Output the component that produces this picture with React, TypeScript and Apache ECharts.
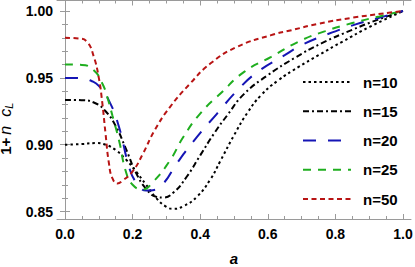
import { useEffect, useRef } from "react";
import * as echarts from "echarts";

const seriesNames = ["n=10", "n=15", "n=20", "n=25", "n=50"];
const seriesColors = ["#000000", "#000000", "#1515b5", "#1fae1f", "#b81414"];
const seriesDashes = [[2.5, 3], [6, 3, 2, 3], [13, 12], [8, 7], [5, 3.5]];

const xTickValues = [0, 0.2, 0.4, 0.6, 0.8, 1.0];
const xMinorTickValues = [0.05, 0.1, 0.15, 0.25, 0.3, 0.35, 0.45, 0.5, 0.55, 0.65, 0.7, 0.75, 0.85, 0.9, 0.95];
const yTickValues = [0.85, 0.9, 0.95, 1.0];
const yMinorTickValues = [0.86, 0.87, 0.88, 0.89, 0.91, 0.92, 0.93, 0.94, 0.96, 0.97, 0.98, 0.99];

const n10: [number, number][] = [
  [0, 0.9], [0.05, 0.9005], [0.09, 0.9012], [0.12, 0.9], [0.15, 0.896], [0.18, 0.889],
  [0.21, 0.88], [0.24, 0.87], [0.27, 0.86], [0.3, 0.8535], [0.32, 0.852], [0.35, 0.854],
  [0.39, 0.861], [0.43, 0.874], [0.46, 0.888], [0.5, 0.907], [0.54, 0.924], [0.58, 0.937],
  [0.63, 0.948], [0.69, 0.958], [0.75, 0.967], [0.82, 0.977], [0.9, 0.988], [1.0, 1.0],
];
const n15: [number, number][] = [
  [0, 0.9335], [0.05, 0.9333], [0.09, 0.931], [0.12, 0.925], [0.15, 0.914], [0.18, 0.897],
  [0.21, 0.879], [0.24, 0.867], [0.27, 0.861], [0.29, 0.8605], [0.32, 0.864], [0.36, 0.876],
  [0.4, 0.892], [0.44, 0.908], [0.48, 0.922], [0.53, 0.938], [0.6, 0.952], [0.68, 0.965],
  [0.76, 0.976], [0.85, 0.986], [0.92, 0.993], [1.0, 1.0],
];
const n20: [number, number][] = [
  [0, 0.95], [0.05, 0.9497], [0.08, 0.9475], [0.1, 0.944], [0.13, 0.933], [0.16, 0.913],
  [0.19, 0.883], [0.21, 0.872], [0.24, 0.8657], [0.26, 0.866], [0.29, 0.8707], [0.33, 0.8857],
  [0.39, 0.9057], [0.45, 0.9233], [0.51, 0.9407], [0.57, 0.9545], [0.65, 0.967], [0.7, 0.9745],
  [0.78, 0.983], [0.86, 0.99], [0.93, 0.995], [1.0, 1.0],
];
const n25: [number, number][] = [
  [0, 0.96], [0.05, 0.9597], [0.085, 0.9557], [0.11, 0.946], [0.125, 0.9357], [0.14, 0.922],
  [0.16, 0.903], [0.18, 0.88], [0.2, 0.87], [0.23, 0.8665], [0.26, 0.872], [0.31, 0.888],
  [0.35, 0.9057], [0.4, 0.9233], [0.46, 0.9383], [0.53, 0.9545], [0.61, 0.9657], [0.69, 0.977],
  [0.77, 0.985], [0.85, 0.991], [0.93, 0.996], [1.0, 1.0],
];
const n50: [number, number][] = [
  [0, 0.98], [0.04, 0.9795], [0.065, 0.977], [0.085, 0.966], [0.1, 0.95], [0.11, 0.932],
  [0.12, 0.908], [0.13, 0.886], [0.14, 0.875], [0.155, 0.871], [0.17, 0.873], [0.2, 0.88],
  [0.23, 0.893], [0.265, 0.9107], [0.31, 0.928], [0.37, 0.9457], [0.43, 0.9607], [0.51, 0.9733],
  [0.61, 0.982], [0.67, 0.9857], [0.75, 0.9905], [0.85, 0.995], [1.0, 1.0],
];
const seriesData = [n10, n15, n20, n25, n50];

const FONT = "'Liberation Sans', Arial, sans-serif";
const FRAME = "#9a9a9a";
const X_MIN = -0.0237;
const X_MAX = 1.0237;
const Y_MIN = 0.8444;
const Y_MAX = 1.0079;

function xAxis(position: "top" | "bottom", ticks: number[], len: number, main: boolean, label: boolean) {
  return {
    type: "value",
    position,
    min: X_MIN,
    max: X_MAX,
    axisLine: { show: main, lineStyle: { color: FRAME, width: 1 } },
    axisTick: { show: true, inside: true, length: len, customValues: ticks, lineStyle: { color: FRAME, width: 1 } },
    axisLabel: {
      show: label,
      customValues: ticks,
      formatter: (v: number) => v.toFixed(1),
      color: "#000",
      fontWeight: "bold",
      fontSize: 14,
      fontFamily: FONT,
      margin: 8,
    },
    splitLine: { show: false },
  };
}

function yAxis(position: "left" | "right", ticks: number[], len: number, main: boolean, label: boolean) {
  return {
    type: "value",
    position,
    min: Y_MIN,
    max: Y_MAX,
    axisLine: { show: main, lineStyle: { color: FRAME, width: 1 } },
    axisTick: { show: true, inside: true, length: len, customValues: ticks, lineStyle: { color: FRAME, width: 1 } },
    axisLabel: {
      show: label,
      customValues: ticks,
      formatter: (v: number) => v.toFixed(2),
      color: "#000",
      fontWeight: "bold",
      fontSize: 14,
      fontFamily: FONT,
      margin: 4,
    },
    splitLine: { show: false },
  };
}

export default function App() {
  const ref = useRef<HTMLDivElement>(null);
  useEffect(() => {
    if (!ref.current) return;
    const chart = echarts.init(ref.current, undefined, { renderer: "svg" });
    chart.setOption({
      animation: false,
      grid: { left: 57, right: 4, top: 0.5, bottom: 48, containLabel: false, outerBoundsMode: "none" },
      xAxis: [
        {
          ...xAxis("bottom", xTickValues, 5, true, true),
          name: "a",
          nameLocation: "middle",
          nameGap: 32,
          nameTextStyle: { fontStyle: "italic", fontWeight: "bold", fontSize: 15, color: "#000", fontFamily: FONT },
        },
        xAxis("bottom", xMinorTickValues, 3, false, false),
        xAxis("top", xTickValues, 5, true, false),
        xAxis("top", xMinorTickValues, 3, false, false),
      ],
      yAxis: [
        {
          ...yAxis("left", yTickValues, 5, true, true),
          name: "{a|1+}{b|n}{g|}{b|c}{c|L}",
          nameLocation: "middle",
          nameRotate: 90,
          nameGap: 32,
          nameTextStyle: {
            padding: [0, 38, 0, 0],
            rich: {
              a: { fontSize: 15, fontWeight: "bold", color: "#000", fontFamily: FONT, lineHeight: 17, verticalAlign: "top", padding: [0, 3, 0, 0] },
              b: { fontSize: 16, fontStyle: "italic", color: "#000", fontFamily: FONT, lineHeight: 17, verticalAlign: "top" },
              g: { width: 9, fontSize: 15, fontFamily: FONT, lineHeight: 17, verticalAlign: "top" },
              c: { fontSize: 11, fontStyle: "italic", color: "#000", fontFamily: FONT, lineHeight: 17, verticalAlign: "bottom" },
            },
          },
        },
        yAxis("left", yMinorTickValues, 3, false, false),
        yAxis("right", yTickValues, 5, true, false),
        yAxis("right", yMinorTickValues, 3, false, false),
      ],
      legend: {
        orient: "vertical",
        left: 297,
        top: 69.5,
        itemWidth: 48,
        itemHeight: 15,
        itemGap: 14.25,
        selectedMode: false,
        data: seriesNames,
        itemStyle: { opacity: 0 },
        textStyle: { fontSize: 15, fontWeight: "bold", color: "#000", fontFamily: FONT, padding: [0, 0, 0, 7] },
      },
      series: seriesNames.map((name, i) => ({
        type: "line",
        name,
        data: seriesData[i],
        xAxisIndex: 0,
        yAxisIndex: 0,
        symbol: "none",
        smooth: 0.5,
        itemStyle: { color: seriesColors[i] },
        lineStyle: { color: seriesColors[i], width: 2, type: seriesDashes[i], cap: "butt" },
      })),
    });
    return () => chart.dispose();
  }, []);
  return <div ref={ref} style={{ width: 415, height: 267, position: "absolute", left: 0, top: 0 }} />;
}
